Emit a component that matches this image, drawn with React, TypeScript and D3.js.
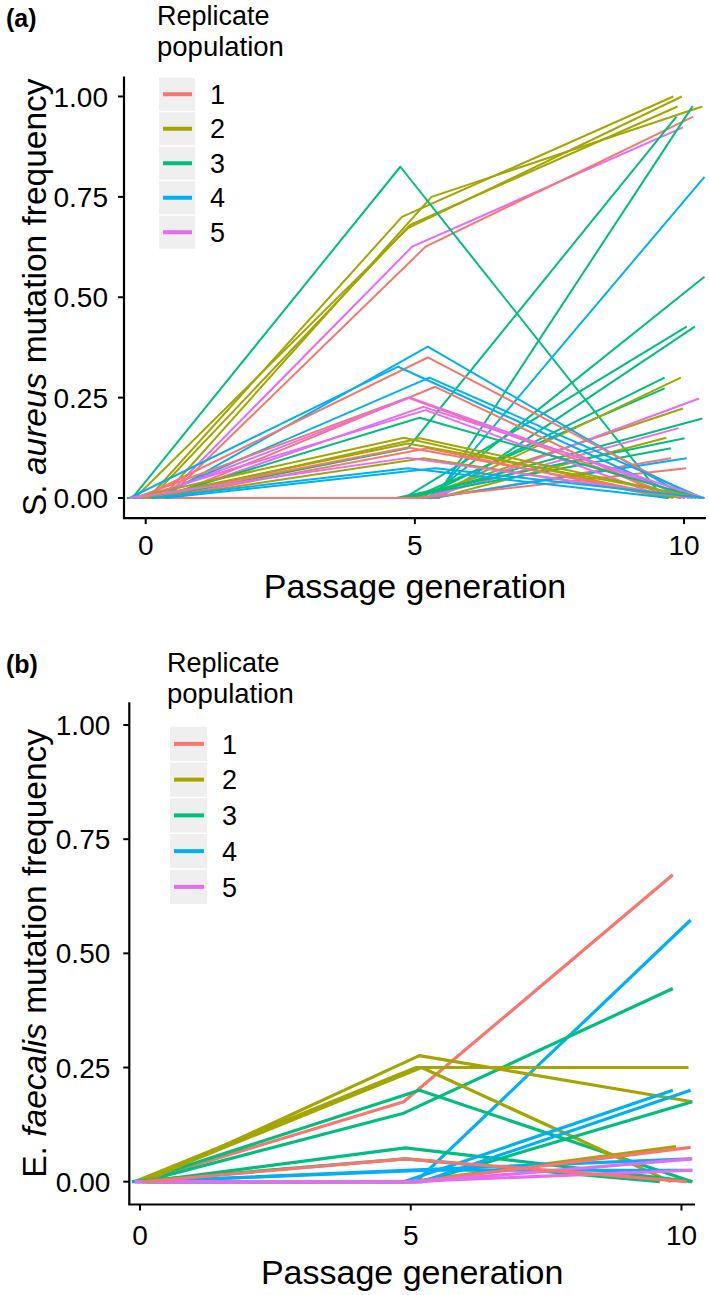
import React from 'react';
import * as d3 from 'd3';

const generationTicks = [0, 5, 10];
const frequencyTicks = [0, 0.25, 0.5, 0.75, 1];
const replicateIds = [1, 2, 3, 4, 5];
const replicateColors = ['#F8766D', '#A3A500', '#00BF7D', '#00B0F6', '#E76BF3'];

// Each row: [replicate, jittered gen at 0, freq at 0, jittered gen at 5, freq at 5, jittered gen at 10, freq at 10]
const aureusTrajectories: number[][] = [
  [2, 0.05, 0, 4.76, 0.70, 9.80, 1.0],
  [2, -0.2, 0, 4.87, 0.672, 9.96, 1.0],
  [2, 0.3, 0, 5.31, 0.75, 10.34, 0.975],
  [2, 0.1, 0, 4.91, 0.68, 9.88, 0.975],
  [5, 0.35, 0, 4.95, 0.626, 9.98, 0.923],
  [1, 0.4, 0, 5.2, 0.626, 10.17, 0.95],
  [3, -0.25, 0, 4.73, 0.825, 9.62, 0],
  [3, 0.2, 0, 4.87, 0.124, 9.86, 0.95],
  [3, 0.0, 0, 5.38, 0, 10.16, 0.976],
  [4, 0.0, 0, 5.34, 0, 10.38, 0.8],
  [3, -0.1, 0, 5.24, 0, 10.38, 0.551],
  [3, 0.15, 0, 4.8, 0, 10.05, 0.427],
  [3, -0.3, 0, 5.45, 0, 10.2, 0.427],
  [3, 0.25, 0, 5.1, 0, 9.64, 0.3],
  [3, -0.15, 0, 4.95, 0, 9.64, 0.273],
  [2, 0.2, 0, 5.25, 0, 9.94, 0.3],
  [2, -0.05, 0, 5.0, 0, 9.98, 0.223],
  [5, 0.3, 0, 5.3, 0, 10.28, 0.248],
  [3, 0.1, 0, 4.9, 0, 10.34, 0.198],
  [5, -0.2, 0, 5.15, 0, 9.9, 0.174],
  [2, 0.35, 0, 5.4, 0, 9.67, 0.15],
  [3, -0.35, 0, 4.65, 0, 10.01, 0.149],
  [3, 0.05, 0, 4.75, 0, 9.76, 0.124],
  [1, 0.3, 0, 5.35, 0, 9.76, 0.099],
  [4, -0.1, 0, 5.3, 0, 10.05, 0.099],
  [1, 0.2, 0, 5.1, 0, 10.04, 0.074],
  [4, 0.25, 0, 5.24, 0.377, 10.09, 0],
  [1, -0.1, 0, 5.24, 0.35, 10.23, 0],
  [4, -0.3, 0, 4.69, 0.327, 10.02, 0],
  [4, 0.1, 0, 5.27, 0.3, 10.34, 0],
  [1, 0.35, 0, 5.38, 0.277, 9.72, 0],
  [1, -0.2, 0, 4.87, 0.25, 9.94, 0],
  [5, 0.05, 0, 4.91, 0.25, 10.16, 0],
  [5, 0.3, 0, 5.16, 0.227, 10.38, 0],
  [5, -0.15, 0, 5.2, 0.219, 9.69, 0],
  [3, 0.2, 0, 5.09, 0.2, 10.3, 0],
  [2, -0.25, 0, 4.8, 0.15, 9.8, 0],
  [2, 0.15, 0, 5.09, 0.149, 10.23, 0],
  [1, 0.0, 0, 4.87, 0.126, 10.02, 0],
  [1, 0.3, 0, 5.24, 0.124, 9.69, 0],
  [2, -0.05, 0, 4.87, 0.136, 10.34, 0],
  [2, 0.25, 0, 5.16, 0.099, 9.94, 0],
  [5, -0.3, 0, 4.87, 0.1, 10.16, 0],
  [4, 0.1, 0, 4.87, 0.074, 9.72, 0],
  [4, 0.35, 0, 5.38, 0.074, 10.38, 0],
];

const faecalisTrajectories: number[][] = [
  [1, 0.0, 0, 4.87, 0.175, 9.84, 0.672],
  [4, -0.1, 0, 5.1, 0, 10.17, 0.573],
  [3, 0.05, 0, 4.87, 0.15, 9.84, 0.423],
  [3, -0.05, 0, 5.16, 0.2, 10.2, 0],
  [2, 0.1, 0, 5.16, 0.276, 10.2, 0.175],
  [2, -0.1, 0, 5.1, 0.25, 10.13, 0.25],
  [2, 0.0, 0, 5.2, 0.25, 9.8, 0],
  [2, 0.15, 0, 5.0, 0, 9.9, 0.077],
  [3, 0.12, 0, 4.9, 0.074, 10.2, 0],
  [3, -0.15, 0, 4.9, 0.05, 9.6, 0],
  [3, 0.1, 0, 5.2, 0, 10.2, 0.175],
  [4, 0.05, 0, 4.87, 0, 9.84, 0.2],
  [4, -0.12, 0, 5.2, 0, 10.17, 0.2],
  [4, 0.1, 0, 4.9, 0.025, 10.17, 0.05],
  [4, -0.05, 0, 5.3, 0.025, 10.2, 0.025],
  [1, 0.1, 0, 5.1, 0, 10.17, 0.075],
  [5, 0.08, 0, 5.2, 0, 10.2, 0.05],
  [5, -0.1, 0, 4.9, 0, 10.2, 0.025],
  [1, 0.05, 0, 4.9, 0.05, 10.1, 0],
];

const FONT = '"Liberation Sans", Arial, Helvetica, sans-serif';

type PanelProps = {
  data: number[][];
  tag: string;
  species: string;
  speciesAbbr: string;
  xDomain: [number, number];
  xRange: [number, number];
  yRange: [number, number];
  lineWidth: number;
  tagY: number;
  titleX: number;
  titleY: number;
  keyX: number;
  keyTop: number;
  keyStep: number;
  keyW: number;
  yLabelGap: number;
  xTickLabelY: number;
  xTitleY: number;
};

function Panel(p: PanelProps) {
  const x = d3.scaleLinear().domain(p.xDomain).range(p.xRange);
  const y = d3.scaleLinear().domain([-0.05, 1.05]).range(p.yRange);
  const color = d3.scaleOrdinal<number, string>().domain(replicateIds).range(replicateColors);
  const line = d3
    .line<[number, number]>()
    .x((d) => x(d[0]))
    .y((d) => y(d[1]));
  const [x0, x1] = p.xRange;
  const [yb, yt] = p.yRange;
  const ticklen = 6;
  return (
    <g fontFamily={FONT}>
      <text x={6} y={p.tagY} fontSize={25} fontWeight="bold">
        {p.tag}
      </text>
      {p.data.map((r, i) => (
        <path
          key={i}
          d={line([
            [r[1], r[2]],
            [r[3], r[4]],
            [r[5], r[6]],
          ]) as string}
          fill="none"
          stroke={color(r[0])}
          strokeWidth={p.lineWidth}
          strokeLinejoin="round"
        />
      ))}
      <line x1={x0} x2={x0} y1={yt} y2={yb} stroke="#000" strokeWidth={2.2} />
      <line x1={x0 - 1.1} x2={x1} y1={yb} y2={yb} stroke="#000" strokeWidth={2.2} />
      {frequencyTicks.map((t) => (
        <g key={t}>
          <line x1={x0 - ticklen} x2={x0} y1={y(t)} y2={y(t)} stroke="#000" strokeWidth={2} />
          <text x={x0 - p.yLabelGap} y={y(t)} dy="0.36em" textAnchor="end" fontSize={28}>
            {d3.format('.2f')(t)}
          </text>
        </g>
      ))}
      {generationTicks.map((t) => (
        <g key={t}>
          <line x1={x(t)} x2={x(t)} y1={yb} y2={yb + ticklen} stroke="#000" strokeWidth={2} />
          <text x={x(t)} y={p.xTickLabelY} textAnchor="middle" fontSize={28}>
            {t}
          </text>
        </g>
      ))}
      <text x={(x0 + x1) / 2} y={p.xTitleY} textAnchor="middle" fontSize={34}>
        Passage generation
      </text>
      <text
        transform={`translate(46,${(yt + yb) / 2}) rotate(-90)`}
        textAnchor="middle"
        fontSize={33.5}
      >
        {p.speciesAbbr + ' '}
        <tspan fontStyle="italic">{p.species}</tspan>
        {' mutation frequency'}
      </text>
      <text x={p.titleX} y={p.titleY} fontSize={27}>
        Replicate
      </text>
      <text x={p.titleX} y={p.titleY + 31} fontSize={27.5}>
        population
      </text>
      {replicateIds.map((id, i) => {
        const top = p.keyTop + i * p.keyStep;
        const cy = top + p.keyStep / 2;
        return (
          <g key={id}>
            <rect x={p.keyX} y={top + 0.75} width={p.keyW} height={p.keyStep - 1.5} fill="#EFEFEF" />
            <line
              x1={p.keyX + 4}
              x2={p.keyX + p.keyW - 3}
              y1={cy}
              y2={cy}
              stroke={color(id)}
              strokeWidth={4}
            />
            <text x={p.keyX + p.keyW + 15} y={cy} dy="0.36em" fontSize={27}>
              {id}
            </text>
          </g>
        );
      })}
    </g>
  );
}

export default function App() {
  return (
    <svg
      width={709}
      height={1295}
      style={{ position: 'absolute', left: 0, top: 0, background: '#fff' }}
    >
      <rect width={709} height={1295} fill="#fff" />
      <Panel
        data={aureusTrajectories}
        tag="(a)"
        species="aureus"
        speciesAbbr="S."
        xDomain={[-0.403, 10.408]}
        xRange={[124, 706]}
        yRange={[518.1, 76.4]}
        lineWidth={2}
        tagY={27}
        titleX={157}
        titleY={25}
        keyX={159}
        keyTop={77}
        keyStep={34.5}
        keyW={36}
        yLabelGap={16}
        xTickLabelY={555}
        xTitleY={598}
      />
      <Panel
        data={faecalisTrajectories}
        tag="(b)"
        species="faecalis"
        speciesAbbr="E."
        xDomain={[-0.198, 10.25]}
        xRange={[129.3, 695]}
        yRange={[1204.5, 702.2]}
        lineWidth={3.2}
        tagY={673}
        titleX={167}
        titleY={672}
        keyX={170}
        keyTop={726}
        keyStep={35.75}
        keyW={37}
        yLabelGap={19}
        xTickLabelY={1245}
        xTitleY={1284}
      />
    </svg>
  );
}
